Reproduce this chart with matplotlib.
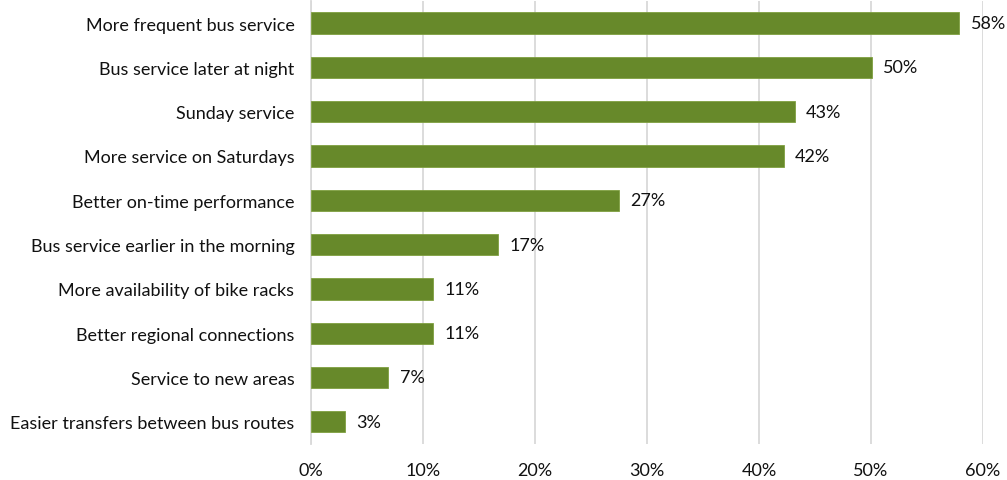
import matplotlib
matplotlib.use("Agg")
import matplotlib.pyplot as plt
from matplotlib.ticker import FuncFormatter

categories = ["More frequent bus service", "Bus service later at night", "Sunday service",
              "More service on Saturdays", "Better on-time performance",
              "Bus service earlier in the morning", "More availability of bike racks",
              "Better regional connections", "Service to new areas",
              "Easier transfers between bus routes"]
values = [57.9, 50.1, 43.2, 42.2, 27.5, 16.7, 10.9, 10.9, 6.9, 3.0]
labels = ["58%", "50%", "43%", "42%", "27%", "17%", "11%", "11%", "7%", "3%"]

plt.rcParams['font.family'] = ['Lato', 'DejaVu Sans']

fig = plt.figure(figsize=(10.07, 4.81), dpi=100)
ax = fig.add_axes([0.309, 0.075, 0.667, 0.921])

y = list(range(len(categories)))
ax.barh(y, values, height=0.48, color='#67892A', edgecolor='#7FA040', linewidth=0.6, zorder=3)
for yi, v, lab in zip(y, values, labels):
    ax.text(v + 1.0, yi, lab, va='center', ha='left', fontsize=13, color='#111111')

ax.set_ylim(len(categories) - 0.5, -0.5)
ax.set_yticks(y)
ax.set_yticklabels(categories, fontsize=13, color='#111111')
ax.set_xlim(0, 60)
ax.set_xticks(range(0, 61, 10))
ax.xaxis.set_major_formatter(FuncFormatter(lambda x, p: f"{int(x)}%"))
ax.tick_params(axis='x', labelsize=13, length=0, pad=13, colors='#111111')
ax.tick_params(axis='y', length=0, pad=12)
ax.grid(axis='x', color='#D9D9D9', linewidth=1.3, zorder=0)
for s in ['top', 'right', 'bottom']:
    ax.spines[s].set_visible(False)
ax.spines['left'].set_color('#D9D9D9')
ax.spines['left'].set_linewidth(1.3)

fig.savefig("out.png", dpi=100)
